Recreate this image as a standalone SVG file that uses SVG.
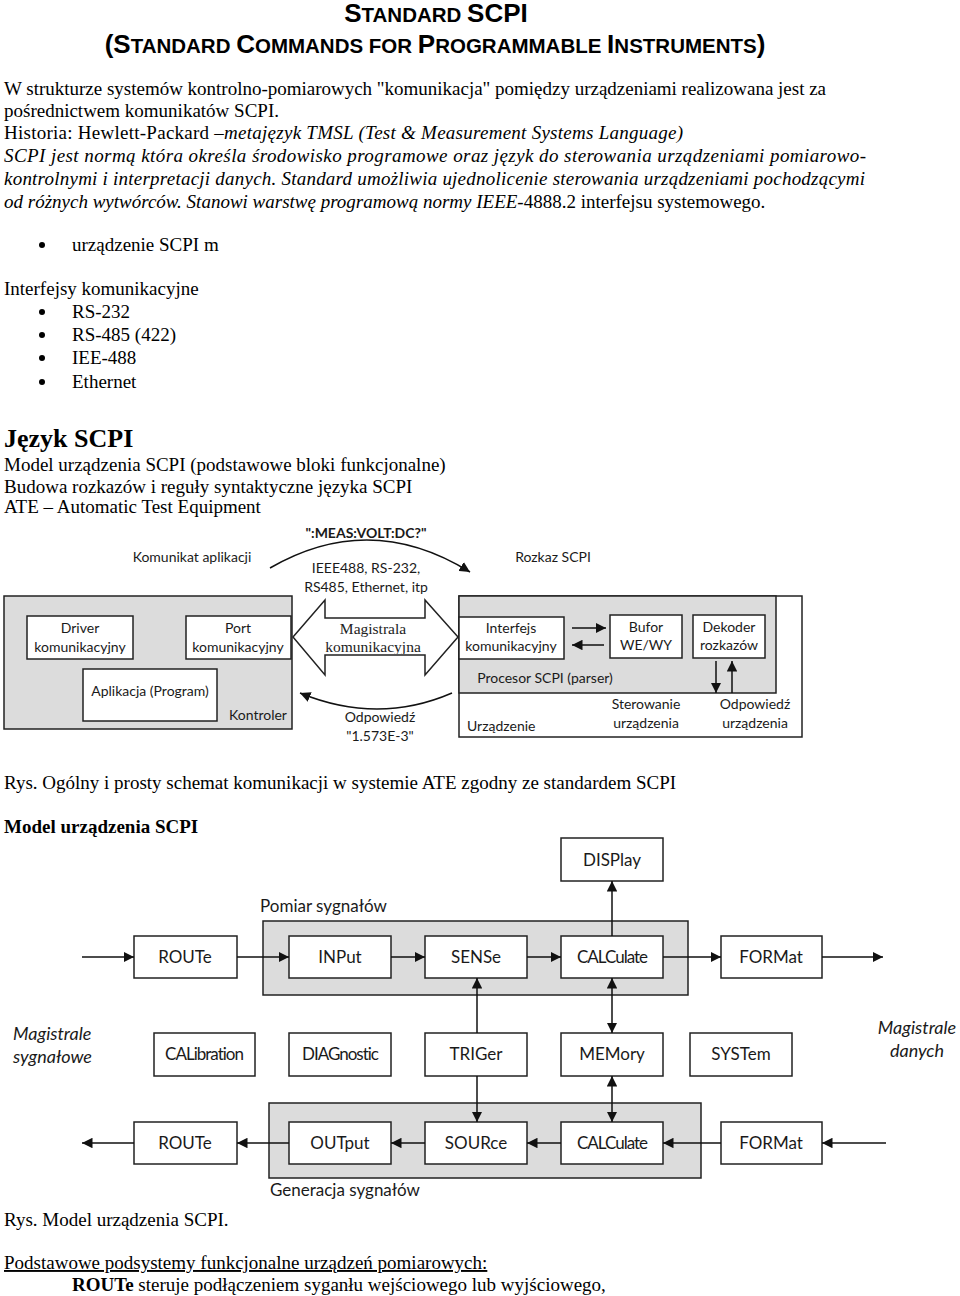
<svg xmlns="http://www.w3.org/2000/svg" width="960" height="1296" viewBox="0 0 960 1296">
<style>
.body{font-family:"Liberation Serif","Times New Roman",serif;font-size:19px;fill:#000}
.it{font-style:italic}
.ttl{font-family:"Liberation Sans",Arial,sans-serif;font-weight:bold;fill:#000}
.big{font-size:26px}
.sm{font-size:20.5px}
.d{font-family:Lato,"Open Sans",sans-serif;font-size:14px;fill:#1a1a1a}
.m{font-family:Lato,"Open Sans",sans-serif;font-size:17px;fill:#1a1a1a}
.mi{font-family:Lato,"Open Sans",sans-serif;font-size:18px;font-style:italic;fill:#1a1a1a}
.cond{letter-spacing:-1px}
.box{fill:#fff;stroke:#222;stroke-width:1.5}
.gray{fill:#dcdcdc;stroke:#222;stroke-width:1.5}
.ln{fill:none;stroke:#111;stroke-width:1.5}
.arr{fill:none;stroke:#111;stroke-width:1.5;marker-end:url(#ah)}
.arr2{fill:none;stroke:#111;stroke-width:1.5;marker-end:url(#ah);marker-start:url(#ahs)}
</style>
<defs>
<marker id="ah" viewBox="0 0 10 10" refX="10" refY="5" markerWidth="7" markerHeight="7" orient="auto" markerUnits="strokeWidth">
<path d="M0,0 L10,5 L0,10 z" fill="#111"/>
</marker>
<marker id="ahs" viewBox="0 0 10 10" refX="0" refY="5" markerWidth="7" markerHeight="7" orient="auto" markerUnits="strokeWidth">
<path d="M10,0 L0,5 L10,10 z" fill="#111"/>
</marker>
<clipPath id="clipMag"><rect x="320" y="600" width="110" height="54"/></clipPath>
</defs>

<!-- Title -->
<g id="title">
<text class="ttl" x="436" y="22" text-anchor="middle"><tspan class="big">S</tspan><tspan class="sm">TANDARD </tspan><tspan class="big">SCPI</tspan></text>
<text class="ttl" x="435" y="53" text-anchor="middle"><tspan class="big">(S</tspan><tspan class="sm">TANDARD </tspan><tspan class="big">C</tspan><tspan class="sm">OMMANDS FOR </tspan><tspan class="big">P</tspan><tspan class="sm">ROGRAMMABLE </tspan><tspan class="big">I</tspan><tspan class="sm">NSTRUMENTS</tspan><tspan class="big">)</tspan></text>
</g>

<!-- Intro text -->
<g id="intro">
<text class="body" x="4" y="95" textLength="822" lengthAdjust="spacing">W strukturze systemów kontrolno-pomiarowych "komunikacja" pomiędzy urządzeniami realizowana jest za</text>
<text class="body" x="4" y="117">pośrednictwem komunikatów SCPI.</text>
<text class="body" x="4" y="139" textLength="679" lengthAdjust="spacing">Historia: Hewlett-Packard <tspan class="it">–metajęzyk TMSL (Test &amp; Measurement Systems Language)</tspan></text>
<text class="body it" x="4" y="162" textLength="862" lengthAdjust="spacing">SCPI jest normą która określa środowisko programowe oraz język do sterowania urządzeniami pomiarowo-</text>
<text class="body it" x="4" y="185" textLength="861" lengthAdjust="spacing">kontrolnymi i interpretacji danych. Standard umożliwia ujednolicenie sterowania urządzeniami pochodzącymi</text>
<text class="body" x="4" y="208"><tspan class="it">od różnych wytwórców. Stanowi warstwę programową normy IEEE</tspan>-4888.2 interfejsu systemowego.</text>
</g>

<g id="lists">
<circle cx="42" cy="245" r="3"/>
<text class="body" x="72" y="251">urządzenie SCPI m</text>
<text class="body" x="4" y="295">Interfejsy komunikacyjne</text>
<circle cx="42" cy="312" r="3"/>
<text class="body" x="72" y="318">RS-232</text>
<circle cx="42" cy="335" r="3"/>
<text class="body" x="72" y="341">RS-485 (422)</text>
<circle cx="42" cy="358" r="3"/>
<text class="body" x="72" y="364">IEE-488</text>
<circle cx="42" cy="382" r="3"/>
<text class="body" x="72" y="388">Ethernet</text>
<text class="body" x="4" y="447" style="font-size:26px;font-weight:bold">Język SCPI</text>
<text class="body" x="4" y="471">Model urządzenia SCPI (podstawowe bloki funkcjonalne)</text>
<text class="body" x="4" y="493">Budowa rozkazów i reguły syntaktyczne języka SCPI</text>
<text class="body" x="4" y="513">ATE – Automatic Test Equipment</text>
</g>

<!-- ATE diagram -->
<g id="kontroler">
<rect class="gray" x="4" y="596" width="288" height="133"/>
<text class="d" x="229" y="720">Kontroler</text>
</g>
<g id="driver">
<rect class="box" x="27" y="616" width="106" height="43"/>
<text class="d" x="80" y="633" text-anchor="middle">Driver</text>
<text class="d" x="80" y="652" text-anchor="middle">komunikacyjny</text>
</g>
<g id="port">
<rect class="box" x="186" y="616" width="105" height="43"/>
<text class="d" x="238" y="633" text-anchor="middle">Port</text>
<text class="d" x="238" y="652" text-anchor="middle">komunikacyjny</text>
</g>
<g id="aplikacja">
<rect class="box" x="83" y="669" width="134" height="52"/>
<text class="d" x="150" y="696" text-anchor="middle">Aplikacja (Program)</text>
</g>
<g id="magistrala">
<polygon class="box" points="293,637 325,600 325,618 425,618 425,600 458,637 425,675 425,655 325,655 325,675"/>
<text x="373" y="634" text-anchor="middle" style="font-family:'Liberation Serif',serif;font-size:15.5px;fill:#222">Magistrala</text>
<text x="373" y="652" text-anchor="middle" clip-path="url(#clipMag)" style="font-family:'Liberation Serif',serif;font-size:15.5px;fill:#222">komunikacyjna</text>
</g>
<g id="urzadzenie">
<rect class="box" x="459" y="596" width="343" height="141"/>
<rect class="gray" x="459" y="596" width="317" height="97"/>
<text class="d" x="545" y="683" text-anchor="middle">Procesor SCPI (parser)</text>
<text class="d" x="467" y="731">Urządzenie</text>
</g>
<g id="interfejs">
<rect class="box" x="459" y="617" width="105" height="42"/>
<text class="d" x="511" y="633" text-anchor="middle">Interfejs</text>
<text class="d" x="511" y="651" text-anchor="middle">komunikacyjny</text>
</g>
<g id="bufor">
<rect class="box" x="610" y="615" width="72" height="43"/>
<text class="d" x="646" y="632" text-anchor="middle">Bufor</text>
<text class="d" x="646" y="650" text-anchor="middle">WE/WY</text>
</g>
<g id="dekoder">
<rect class="box" x="693" y="615" width="72" height="43"/>
<text class="d" x="729" y="632" text-anchor="middle">Dekoder</text>
<text class="d" x="729" y="650" text-anchor="middle">rozkazów</text>
</g>
<g id="ate-labels">
<text class="d" x="366" y="538" text-anchor="middle" style="font-weight:bold">":MEAS:VOLT:DC?"</text>
<text class="d" x="192" y="562" text-anchor="middle">Komunikat aplikacji</text>
<text class="d" x="366" y="573" text-anchor="middle">IEEE488, RS-232,</text>
<text class="d" x="366" y="592" text-anchor="middle">RS485, Ethernet, itp</text>
<text class="d" x="553" y="562" text-anchor="middle">Rozkaz SCPI</text>
<text class="d" x="380" y="722" text-anchor="middle">Odpowiedź</text>
<text class="d" x="380" y="741" text-anchor="middle">"1.573E-3"</text>
<text class="d" x="646" y="709" text-anchor="middle">Sterowanie</text>
<text class="d" x="646" y="728" text-anchor="middle">urządzenia</text>
<text class="d" x="755" y="709" text-anchor="middle">Odpowiedź</text>
<text class="d" x="755" y="728" text-anchor="middle">urządzenia</text>
</g>
<g id="ate-connectors">
<path class="arr" d="M270,568 Q370,510 470,572"/>
<path class="arr" d="M452,693 Q378,725 300,693"/>
<path class="arr" d="M572,628 L606,628"/>
<path class="arr" d="M604,645 L572,645"/>
<path class="arr" d="M716,661 L716,693"/>
<path class="arr" d="M732,693 L732,661"/>
</g>

<g id="caption1">
<text class="body" x="4" y="789">Rys. Ogólny i prosty schemat komunikacji w systemie ATE zgodny ze standardem SCPI</text>
<text class="body" x="4" y="833" style="font-weight:bold">Model urządzenia SCPI</text>
</g>

<!-- Model diagram -->
<g id="pomiar">
<rect class="gray" x="263" y="921" width="425" height="74"/>
<text class="m" x="260" y="912">Pomiar sygnałów</text>
</g>
<g id="generacja">
<rect class="gray" x="269" y="1103" width="432" height="75"/>
<text class="m" x="270" y="1196">Generacja sygnałów</text>
</g>
<g id="display"><rect class="box" x="561" y="838" width="102" height="43"/><text class="m" x="612" y="866" text-anchor="middle">DISPlay</text></g>
<g id="route-in"><rect class="box" x="134" y="936" width="103" height="42"/><text class="m" x="185" y="963" text-anchor="middle">ROUTe</text></g>
<g id="input"><rect class="box" x="289" y="936" width="102" height="42"/><text class="m" x="340" y="963" text-anchor="middle">INPut</text></g>
<g id="sense"><rect class="box" x="425" y="936" width="102" height="42"/><text class="m" x="476" y="963" text-anchor="middle">SENSe</text></g>
<g id="calc-in"><rect class="box" x="561" y="936" width="102" height="42"/><text class="m cond" x="612" y="963" text-anchor="middle">CALCulate</text></g>
<g id="format-in"><rect class="box" x="721" y="936" width="101" height="42"/><text class="m" x="771" y="963" text-anchor="middle">FORMat</text></g>

<g id="calibration"><rect class="box" x="154" y="1033" width="101" height="43"/><text class="m cond" x="204" y="1060" text-anchor="middle">CALibration</text></g>
<g id="diagnostic"><rect class="box" x="289" y="1033" width="102" height="43"/><text class="m cond" x="340" y="1060" text-anchor="middle">DIAGnostic</text></g>
<g id="triger"><rect class="box" x="425" y="1033" width="102" height="43"/><text class="m" x="476" y="1060" text-anchor="middle">TRIGer</text></g>
<g id="memory"><rect class="box" x="561" y="1033" width="102" height="43"/><text class="m" x="612" y="1060" text-anchor="middle">MEMory</text></g>
<g id="system"><rect class="box" x="690" y="1033" width="102" height="43"/><text class="m" x="741" y="1060" text-anchor="middle">SYSTem</text></g>

<g id="route-out"><rect class="box" x="134" y="1122" width="103" height="42"/><text class="m" x="185" y="1149" text-anchor="middle">ROUTe</text></g>
<g id="output"><rect class="box" x="289" y="1122" width="102" height="42"/><text class="m" x="340" y="1149" text-anchor="middle">OUTput</text></g>
<g id="source"><rect class="box" x="425" y="1122" width="102" height="42"/><text class="m" x="476" y="1149" text-anchor="middle">SOURce</text></g>
<g id="calc-out"><rect class="box" x="561" y="1122" width="102" height="42"/><text class="m cond" x="612" y="1149" text-anchor="middle">CALCulate</text></g>
<g id="format-out"><rect class="box" x="721" y="1122" width="101" height="42"/><text class="m" x="771" y="1149" text-anchor="middle">FORMat</text></g>

<g id="bus-labels">
<text class="mi" x="13" y="1040">Magistrale</text>
<text class="mi" x="13" y="1063">sygnałowe</text>
<text class="mi" x="917" y="1034" text-anchor="middle">Magistrale</text>
<text class="mi" x="917" y="1057" text-anchor="middle">danych</text>
</g>

<g id="model-connectors">
<path class="arr" d="M82,957 L134,957"/>
<path class="arr" d="M237,957 L289,957"/>
<path class="arr" d="M391,957 L425,957"/>
<path class="arr" d="M527,957 L561,957"/>
<path class="arr" d="M663,957 L721,957"/>
<path class="arr" d="M822,957 L883,957"/>
<path class="arr" d="M612,936 L612,881"/>
<path class="arr" d="M477,1033 L477,978"/>
<path class="arr" d="M477,1076 L477,1122"/>
<path class="arr2" d="M612,978 L612,1033"/>
<path class="arr2" d="M612,1076 L612,1122"/>
<path class="arr" d="M886,1143 L822,1143"/>
<path class="arr" d="M721,1143 L663,1143"/>
<path class="arr" d="M561,1143 L527,1143"/>
<path class="arr" d="M425,1143 L391,1143"/>
<path class="arr" d="M289,1143 L237,1143"/>
<path class="arr" d="M134,1143 L82,1143"/>
</g>

<g id="footer">
<text class="body" x="4" y="1226">Rys. Model urządzenia SCPI.</text>
<text class="body" x="4" y="1269" style="text-decoration:underline">Podstawowe podsystemy funkcjonalne urządzeń pomiarowych:</text>
<text class="body" x="72" y="1291"><tspan style="font-weight:bold">ROUTe</tspan>  steruje podłączeniem syganłu wejściowego lub wyjściowego,</text>
</g>
</svg>
